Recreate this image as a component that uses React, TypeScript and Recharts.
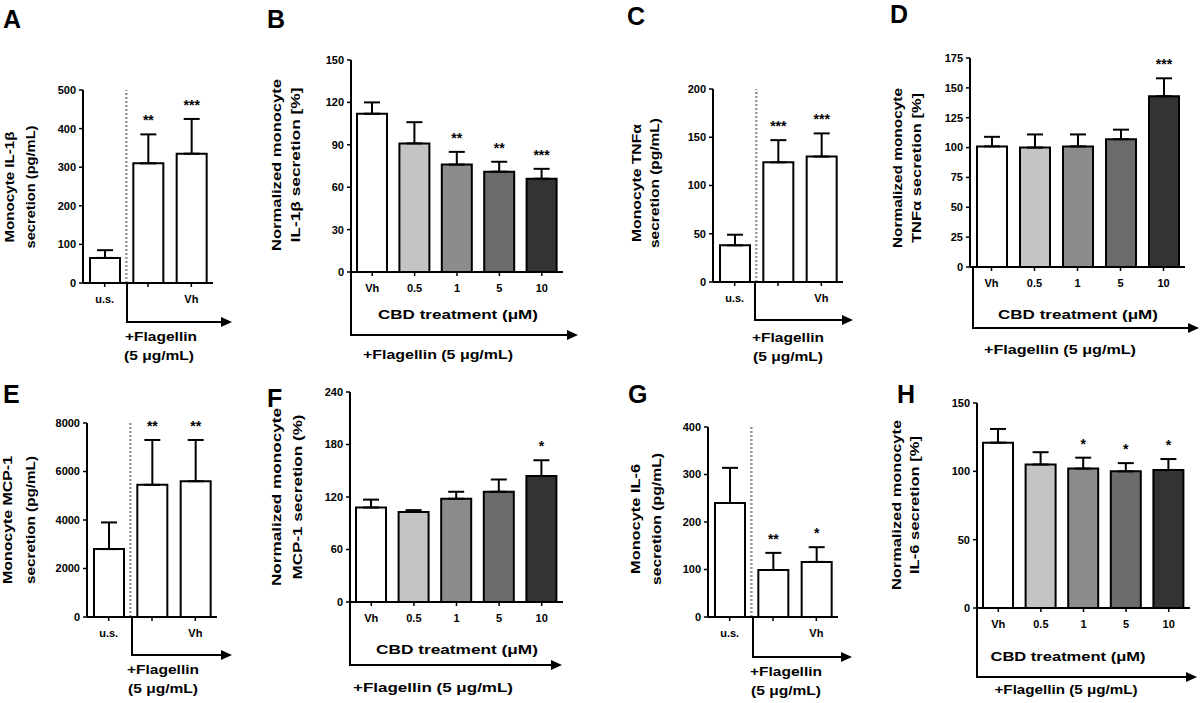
import React from 'react';
import { ComposedChart, Bar, XAxis, YAxis, ErrorBar, Cell, LabelList, ReferenceLine } from 'recharts';

const FONT = "'Liberation Sans', Arial, sans-serif";

// categories
const catsFlag = ['u.s.', '', 'Vh'];
const catsDose = ['Vh', '0.5', '1', '5', '10'];

// colours
const flagColors = ['#ffffff', '#ffffff', '#ffffff'];
const doseColors = ['#ffffff', '#c4c4c4', '#8c8c8c', '#6b6b6b', '#333333'];

// A: IL-1β (pg/mL)
const meanA = [65, 310, 335];
const errA = [20, 75, 90];
const sigA = ['', '**', '***'];
const ticksA = [0, 100, 200, 300, 400, 500];

// B: normalized IL-1β (%)
const meanB = [112, 91, 76, 71, 66];
const errB = [8, 15, 9, 7, 7];
const sigB = ['', '', '**', '**', '***'];
const ticksB = [0, 30, 60, 90, 120, 150];

// C: TNFα (pg/mL)
const meanC = [38, 124, 130];
const errC = [11, 23, 24];
const sigC = ['', '***', '***'];
const ticksC = [0, 50, 100, 150, 200];

// D: normalized TNFα (%)
const meanD = [101, 100, 101, 107, 143];
const errD = [8, 11, 10, 8, 15];
const sigD = ['', '', '', '', '***'];
const ticksD = [0, 25, 50, 75, 100, 125, 150, 175];

// E: MCP-1 (pg/mL)
const meanE = [2800, 5450, 5600];
const errE = [1100, 1850, 1700];
const sigE = ['', '**', '**'];
const ticksE = [0, 2000, 4000, 6000, 8000];

// F: normalized MCP-1 (%)
const meanF = [108, 103, 118, 126, 144];
const errF = [9, 2, 8, 14, 18];
const sigF = ['', '', '', '', '*'];
const ticksF = [0, 60, 120, 180, 240];

// G: IL-6 (pg/mL)
const meanG = [240, 99, 116];
const errG = [74, 36, 31];
const sigG = ['', '**', '*'];
const ticksG = [0, 100, 200, 300, 400];

// H: normalized IL-6 (%)
const meanH = [121, 105, 102, 100, 101];
const errH = [10, 9, 8, 6, 8];
const sigH = ['', '', '*', '*', '*'];
const ticksH = [0, 50, 100, 150];

const starContent = (mean: number[], err: number[]) => (props: any) => {
  const { index, value } = props;
  if (!value) return null;
  const vb = props.viewBox || {};
  const x = vb.x ?? props.x;
  const y = vb.y ?? props.y;
  const w = vb.width ?? props.width;
  const h = vb.height ?? props.height;
  const top = Math.min(y, y + h);
  const px = Math.abs(h) / mean[index];
  const errTop = top - err[index] * px;
  return (
    <text x={x + w / 2} y={errTop - 9} textAnchor="middle" fontSize={14} fontWeight="bold" fontFamily={FONT} fill="#000">
      {value}
    </text>
  );
};

type PanelProps = {
  cats: string[]; mean: number[]; err: number[]; sig: string[]; ticks: number[]; colors: string[];
  x0: number; x1: number; yTop: number; yBot: number; divider?: boolean;
};

function Panel({ cats, mean, err, sig, ticks, colors, x0, x1, yTop, yBot, divider }: PanelProps) {
  const data = cats.map((c, i) => ({ cat: c, mean: mean[i], err: [0, err[i]], sig: sig[i] }));
  const L = x0 - 45;
  const T = yTop - 40;
  const W = x1 + 10 - L;
  const H = yBot + 30 - T;
  const tickStyle = { fontSize: 11, fontWeight: 'bold', fill: '#000', fontFamily: FONT };
  return (
    <div style={{ position: 'absolute', left: L, top: T }}>
      <ComposedChart width={W} height={H} data={data} margin={{ top: 40, right: 10, left: 0, bottom: 0 }}>
        <XAxis dataKey="cat" height={30} interval={0} tick={tickStyle} tickSize={4} tickMargin={8}
          tickLine={{ stroke: '#000', strokeWidth: 1.5 }} axisLine={{ stroke: '#000', strokeWidth: 2 }} />
        <YAxis width={45} domain={[0, ticks[ticks.length - 1]]} ticks={ticks} interval={0} tick={tickStyle}
          tickSize={4} tickMargin={3} tickLine={{ stroke: '#000', strokeWidth: 1.5 }}
          axisLine={{ stroke: '#000', strokeWidth: 2 }} allowDataOverflow />
        {divider && (
          <ReferenceLine x={cats[0]} position="end" stroke="#999999" strokeWidth={2.5} strokeDasharray="2 2" />
        )}
        <Bar dataKey="mean" barSize={30} stroke="#000" strokeWidth={2} isAnimationActive={false}>
          {colors.map((c, i) => (
            <Cell key={i} fill={c} />
          ))}
          <ErrorBar dataKey="err" direction="y" width={8} stroke="#000" strokeWidth={2} isAnimationActive={false} />
          <LabelList dataKey="sig" content={starContent(mean, err)} />
        </Bar>
      </ComposedChart>
    </div>
  );
}

const ylabels = [
  { c1: 10, c2: 31, cy: 187, t1: 'Monocyte IL-1β', t2: 'secretion (pg/mL)', l1: 111, l2: 123 },
  { c1: 277, c2: 296, cy: 165, t1: 'Normalized monocyte', t2: 'IL-1β secretion [%]', l1: 172, l2: 155 },
  { c1: 637, c2: 655, cy: 183, t1: 'Monocyte TNFα', t2: 'secretion (pg/mL)', l1: 118, l2: 130 },
  { c1: 898, c2: 917, cy: 168, t1: 'Normalized monocyte', t2: 'TNFα secretion [%]', l1: 160, l2: 150 },
  { c1: 8, c2: 31, cy: 520, t1: 'Monocyte MCP-1', t2: 'secretion (pg/mL)', l1: 128, l2: 128 },
  { c1: 277, c2: 298, cy: 497, t1: 'Normalized monocyte', t2: 'MCP-1 secretion (%)', l1: 178, l2: 165 },
  { c1: 636, c2: 657, cy: 519, t1: 'Monocyte IL-6', t2: 'secretion (pg/mL)', l1: 110, l2: 132 },
  { c1: 897, c2: 915, cy: 505, t1: 'Normalized monocyte', t2: 'IL-6 secretion [%]', l1: 170, l2: 138 },
];

const hlabels = [
  { x: 161, y: 337, t: '+Flagellin', l: 72 },
  { x: 159, y: 356, t: '(5 μg/mL)', l: 70 },
  { x: 458, y: 315, t: 'CBD treatment (μM)', l: 160 },
  { x: 438, y: 355, t: '+Flagellin (5 μg/mL)', l: 150 },
  { x: 788, y: 338, t: '+Flagellin', l: 72 },
  { x: 788, y: 357, t: '(5 μg/mL)', l: 70 },
  { x: 1078, y: 315, t: 'CBD treatment (μM)', l: 160 },
  { x: 1060, y: 350, t: '+Flagellin (5 μg/mL)', l: 152 },
  { x: 163, y: 670, t: '+Flagellin', l: 72 },
  { x: 163, y: 689, t: '(5 μg/mL)', l: 70 },
  { x: 457, y: 650, t: 'CBD treatment (μM)', l: 162 },
  { x: 433, y: 688, t: '+Flagellin (5 μg/mL)', l: 160 },
  { x: 786, y: 672, t: '+Flagellin', l: 72 },
  { x: 786, y: 691, t: '(5 μg/mL)', l: 70 },
  { x: 1068, y: 657, t: 'CBD treatment (μM)', l: 155 },
  { x: 1066, y: 690, t: '+Flagellin (5 μg/mL)', l: 143 },
];

const arrows = [
  { x: 127, y0: 284, y1: 322, x2: 232 },
  { x: 351, y0: 272, y1: 335, x2: 578 },
  { x: 755, y0: 282, y1: 320, x2: 853 },
  { x: 973, y0: 267, y1: 328, x2: 1199 },
  { x: 132, y0: 617, y1: 655, x2: 232 },
  { x: 350, y0: 602, y1: 665, x2: 562 },
  { x: 753, y0: 617, y1: 657, x2: 852 },
  { x: 977, y0: 608, y1: 677, x2: 1197 },
];

const letters = [
  { t: 'A', x: 3, y: 28 }, { t: 'B', x: 267, y: 28 }, { t: 'C', x: 627, y: 25 }, { t: 'D', x: 890, y: 23 },
  { t: 'E', x: 3, y: 403 }, { t: 'F', x: 267, y: 407 }, { t: 'G', x: 628, y: 403 }, { t: 'H', x: 897, y: 403 },
];

function Overlay() {
  return (
    <svg width={1200} height={703} style={{ position: 'absolute', left: 0, top: 0, pointerEvents: 'none' }}>
      {letters.map((l, i) => (
        <text key={i} x={l.x} y={l.y} fontSize={25} fontWeight="bold" fontFamily={FONT} fill="#000">{l.t}</text>
      ))}
      {ylabels.map((y, i) => (
        <g key={i} fontSize={12} fontWeight="bold" fontFamily={FONT} fill="#000">
          <text x={y.c1} y={y.cy} textAnchor="middle" dominantBaseline="central" transform={`rotate(-90 ${y.c1} ${y.cy})`}
            textLength={y.l1} lengthAdjust="spacingAndGlyphs">{y.t1}</text>
          <text x={y.c2} y={y.cy} textAnchor="middle" dominantBaseline="central" transform={`rotate(-90 ${y.c2} ${y.cy})`}
            textLength={y.l2} lengthAdjust="spacingAndGlyphs">{y.t2}</text>
        </g>
      ))}
      {hlabels.map((h, i) => (
        <text key={i} x={h.x} y={h.y} textAnchor="middle" dominantBaseline="central" fontSize={12} fontWeight="bold"
          fontFamily={FONT} fill="#000" textLength={h.l} lengthAdjust="spacingAndGlyphs">{h.t}</text>
      ))}
      {arrows.map((a, i) => (
        <g key={i}>
          <path d={`M${a.x},${a.y0} V${a.y1} H${a.x2 - 9}`} stroke="#000" strokeWidth={2} fill="none" />
          <polygon points={`${a.x2},${a.y1} ${a.x2 - 11},${a.y1 - 5} ${a.x2 - 11},${a.y1 + 5}`} fill="#000" />
        </g>
      ))}
    </svg>
  );
}

export default function App() {
  return (
    <div style={{ position: 'absolute', left: 0, top: 0, width: 1200, height: 703, background: '#fff', overflow: 'hidden' }}>
      <Panel cats={catsFlag} mean={meanA} err={errA} sig={sigA} ticks={ticksA} colors={flagColors}
        x0={83} x1={213} yTop={90} yBot={283} divider />
      <Panel cats={catsDose} mean={meanB} err={errB} sig={sigB} ticks={ticksB} colors={doseColors}
        x0={351} x1={563} yTop={60} yBot={272} />
      <Panel cats={catsFlag} mean={meanC} err={errC} sig={sigC} ticks={ticksC} colors={flagColors}
        x0={713} x1={843} yTop={89} yBot={282} divider />
      <Panel cats={catsDose} mean={meanD} err={errD} sig={sigD} ticks={ticksD} colors={doseColors}
        x0={970} x1={1185} yTop={58} yBot={267} />
      <Panel cats={catsFlag} mean={meanE} err={errE} sig={sigE} ticks={ticksE} colors={flagColors}
        x0={87} x1={217} yTop={423} yBot={617} divider />
      <Panel cats={catsDose} mean={meanF} err={errF} sig={sigF} ticks={ticksF} colors={doseColors}
        x0={350} x1={563} yTop={392} yBot={602} />
      <Panel cats={catsFlag} mean={meanG} err={errG} sig={sigG} ticks={ticksG} colors={flagColors}
        x0={708} x1={838} yTop={427} yBot={617} divider />
      <Panel cats={catsDose} mean={meanH} err={errH} sig={sigH} ticks={ticksH} colors={doseColors}
        x0={977} x1={1190} yTop={403} yBot={608} />
      <Overlay />
    </div>
  );
}
